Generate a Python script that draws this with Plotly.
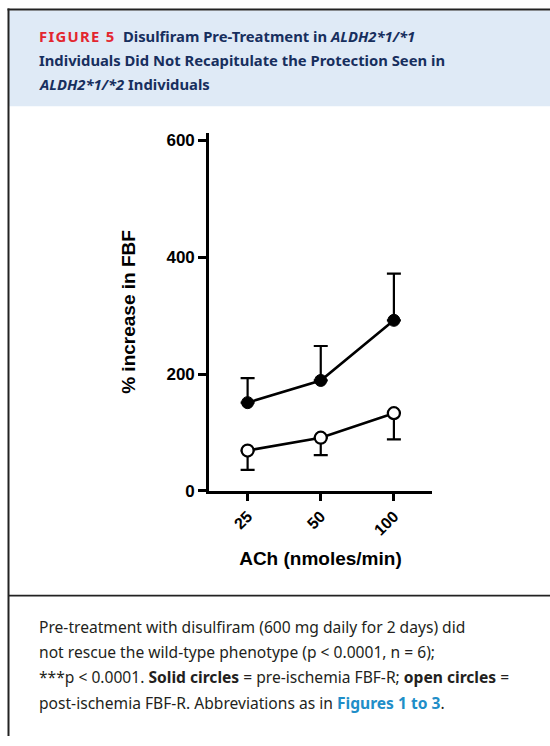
import plotly.graph_objects as go

W, H = 550, 746

# ---- data ----
doses = ["25", "50", "100"]
pre_mean = [151, 189, 292]        # solid circles (pre-ischemia FBF-R)
pre_err_up = [42, 59, 80]
post_mean = [69, 91, 133]         # open circles (post-ischemia FBF-R)
post_err_down = [33, 30, 45]
y_ticks = [0, 200, 400, 600]

def px(x):
    return x / W

def py(y):
    return 1 - y / H

# plot area in pixels
L, R, T, B = 209.2, 431.7, 133.3, 496.8

fig = go.Figure()

fig.add_trace(go.Scatter(
    x=doses, y=pre_mean, mode="markers",
    marker=dict(size=1, opacity=0),
    error_y=dict(type="data", symmetric=False, array=pre_err_up,
                 arrayminus=[0] * len(pre_err_up), color="black",
                 thickness=2.2, width=7),
    hoverinfo="skip", showlegend=False))
fig.add_trace(go.Scatter(
    x=doses, y=post_mean, mode="markers",
    marker=dict(size=1, opacity=0),
    error_y=dict(type="data", symmetric=False, array=[0] * len(post_err_down),
                 arrayminus=post_err_down, color="black",
                 thickness=2.2, width=7),
    hoverinfo="skip", showlegend=False))

fig.add_trace(go.Scatter(
    x=doses, y=post_mean, mode="lines+markers",
    line=dict(color="black", width=2.6),
    marker=dict(symbol="circle", size=12, color="white",
                line=dict(color="black", width=2.2)),
    showlegend=False))
fig.add_trace(go.Scatter(
    x=doses, y=pre_mean, mode="lines+markers",
    line=dict(color="black", width=2.6),
    marker=dict(symbol="circle", size=12, color="black",
                line=dict(color="black", width=1)),
    showlegend=False))

fig.update_layout(
    width=W, height=H,
    margin=dict(l=0, r=0, t=0, b=0),
    paper_bgcolor="white", plot_bgcolor="white",
    xaxis=dict(
        domain=[px(L), px(R)], type="category",
        range=[-0.505 - 1.5 / 74.2, 2.517],
        showline=True, linecolor="black", linewidth=3,
        ticks="outside", ticklen=7, tickwidth=2.5, tickcolor="black",
        tickangle=-45, showgrid=False, zeroline=False,
        tickvals=doses, ticktext=[f"<b>{d}</b>" for d in doses],
        tickfont=dict(family="Liberation Sans", size=16, color="black"),
        title=dict(text="<b>ACh (nmoles/min)</b>", font=dict(family="Liberation Sans", size=19, color="black"),
                   standoff=15),
    ),
    yaxis=dict(
        domain=[py(B), py(T)],
        range=[0, 612.6], tickvals=y_ticks,
        ticktext=[f"<b>{v}</b>" for v in y_ticks],
        showline=True, linecolor="black", linewidth=3,
        ticks="outside", ticklen=8, tickwidth=3, tickcolor="black",
        showgrid=False, zeroline=False,
        tickfont=dict(family="Liberation Sans", size=17, color="black"),
        title=dict(text="<b>% increase in FBF</b>", font=dict(family="Liberation Sans", size=19, color="black"),
                   standoff=26),
    ),
)

shapes = [
    dict(type="rect", xref="paper", yref="paper", x0=px(9), x1=px(550), y0=py(106), y1=py(8.7),
         fillcolor="#dfeaf6", line=dict(width=0), layer="below"),
    dict(type="line", xref="paper", yref="paper", x0=px(7.5), x1=px(550), y0=py(7.7), y1=py(7.7),
         line=dict(color="#222222", width=2)),
    dict(type="line", xref="paper", yref="paper", x0=px(8.5), x1=px(8.5), y0=py(6.7), y1=py(746),
         line=dict(color="#222222", width=2)),
    dict(type="line", xref="paper", yref="paper", x0=px(8.5), x1=px(550), y0=py(603.3), y1=py(603.3),
         line=dict(color="#222222", width=1.6)),
]

navy = "#172f5e"
red = "#e3262f"
hfont = dict(family="Noto Sans", size=14.8, color=navy)
header_lines = [
    (34.5, f"<b><span style='color:{red};letter-spacing:1.3px'>FIGURE 5</span>\u2002Disulfiram Pre-Treatment in <i>ALDH2*1/*1</i></b>"),
    (58.5, "<b>Individuals Did Not Recapitulate the Protection Seen in</b>"),
    (83.0, "<b><i>ALDH2*1/*2</i> Individuals</b>"),
]
annotations = []
for y, t in header_lines:
    annotations.append(dict(xref="paper", yref="paper", x=px(37), y=py(y), text=t,
                            showarrow=False, xanchor="left", yanchor="middle", font=hfont))

cfont = dict(family="Noto Sans", size=15.6, color="#231f20")
blue = "#1f8ec8"
caption_lines = [
    (635.5, "Pre-treatment with disulfiram (600 mg daily for 2 days) did"),
    (661.0, "not rescue the wild-type phenotype (p &lt; 0.0001, n = 6);"),
    (686.5, "***p &lt; 0.0001. <b>Solid circles</b> = pre-ischemia FBF-R; <b>open circles</b> ="),
    (712.0, f"post-ischemia FBF-R. Abbreviations as in <b><span style='color:{blue}'>Figures 1 to 3</span></b>."),
]
for y, t in caption_lines:
    annotations.append(dict(xref="paper", yref="paper", x=px(37), y=py(y), text=t,
                            showarrow=False, xanchor="left", yanchor="middle", font=cfont))

annotations.append(dict(xref="x", yref="y", x=doses[-1], y=pre_mean[-1], text="* * *",
                        showarrow=False, xanchor="left", yanchor="middle", xshift=14, yshift=-3,
                        font=dict(family="Liberation Sans", size=20, color="black")))

fig.update_layout(shapes=shapes, annotations=annotations)
fig.write_html(
    "out.html", config={"displayModeBar": False},
    post_script=(
        "var h=document.documentElement,b=document.body;"
        "h.style.margin='0';h.style.padding='0';h.style.overflow='hidden';"
        "b.style.margin='0';b.style.padding='0';b.style.overflow='hidden';"
    ),
)
